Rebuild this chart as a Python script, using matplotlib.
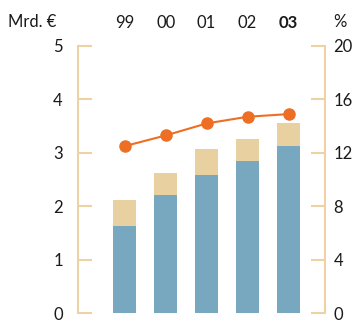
import matplotlib
matplotlib.use('Agg')
import matplotlib.pyplot as plt
import numpy as np

plt.rcParams['font.family'] = ['Lato', 'DejaVu Sans']

years = ['99', '00', '01', '02', '03']
base_values = [1.62, 2.21, 2.58, 2.84, 3.12]   # Mrd. €, blue part
total_values = [2.12, 2.62, 3.07, 3.25, 3.55]  # Mrd. €, bar total
pct_values = [12.5, 13.3, 14.2, 14.7, 14.9]    # %, right axis

blue = '#78A7C0'
beige = '#E8D0A0'
orange = '#EE6E23'
axis_col = '#EDD3A3'
text_col = '#1a1a1a'
fs = 12

top_values = [t - b for t, b in zip(total_values, base_values)]
x = np.arange(len(years))

fig = plt.figure(figsize=(3.53, 3.22), dpi=100)
ax = fig.add_axes([78 / 353, 1 - 313 / 322, 247 / 353, 267 / 322])

# Stacked bars
ax.bar(x, base_values, width=0.56, color=blue, zorder=2)
ax.bar(x, top_values, bottom=base_values, width=0.56, color=beige, zorder=2)

ax.set_xlim(-1.14, 4.89)
ax.set_ylim(0, 5)
ax.set_yticks([0, 1, 2, 3, 4, 5])
ax.set_yticklabels(['0', '1', '2', '3', '4', '5'])

# Right axis for percentages
ax2 = ax.twinx()
ax2.plot(x, pct_values, color=orange, lw=1.5, marker='o', ms=8, zorder=3)
ax2.set_ylim(0, 20)
ax2.set_yticks([0, 4, 8, 12, 16, 20])

for a in (ax, ax2):
    for s in ('top', 'bottom'):
        a.spines[s].set_visible(False)
    a.spines['left'].set_color(axis_col)
    a.spines['right'].set_color(axis_col)
    a.spines['left'].set_linewidth(1.5)
    a.spines['right'].set_linewidth(1.5)
ax2.spines['left'].set_visible(False)
ax.spines['right'].set_visible(False)

ax.tick_params(axis='y', direction='in', length=10, width=1.5, color=axis_col,
               labelsize=fs, labelcolor=text_col, pad=11)
ax2.tick_params(axis='y', direction='in', length=10, width=1.5, color=axis_col,
                labelsize=fs, labelcolor=text_col, pad=6)

# Year labels on top
ax.xaxis.tick_top()
ax.set_xticks(x)
ax.set_xticklabels(years)
ax.tick_params(axis='x', length=0, labelsize=fs, labelcolor=text_col, pad=11)
ax.get_xticklabels()[-1].set_fontweight('bold')

fig.text(8 / 353, 1 - 22 / 322, 'Mrd. €', fontsize=fs, color=text_col,
         va='center', ha='left')
fig.text(333 / 353, 1 - 22 / 322, '%', fontsize=fs, color=text_col,
         va='center', ha='left')

fig.savefig('out.png', dpi=100)
